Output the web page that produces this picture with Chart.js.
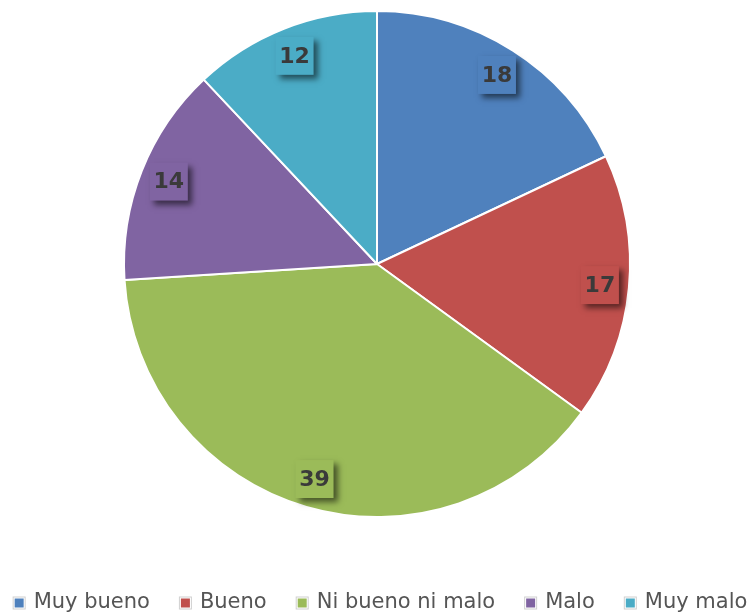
<!DOCTYPE html>
<html>
<head>
<meta charset="utf-8">
<script src="https://cdn.jsdelivr.net/npm/chart.js@4/dist/chart.umd.min.js"></script>
<style>
  html, body { margin: 0; padding: 0; background: #fff; }
  #wrap { width: 754px; height: 614px; }
</style>
</head>
<body>
<div id="wrap"><canvas id="grafico"></canvas></div>
<script>
// Respuestas de la encuesta
const categorias = ["Muy bueno", "Bueno", "Ni bueno ni malo", "Malo", "Muy malo"];
const valores = [18, 17, 39, 14, 12];
const colores = ["#4F81BD", "#C0504D", "#9BBB59", "#8064A2", "#4BACC6"];

// Etiquetas en cajas con sombra dentro de cada porción
const etiquetasCaja = {
  id: "etiquetasCaja",
  afterDatasetsDraw(chart) {
    const ctx = chart.ctx;
    const meta = chart.getDatasetMeta(0);
    meta.data.forEach((arc, i) => {
      const ang = (arc.startAngle + arc.endAngle) / 2;
      const r = arc.outerRadius * 0.885;
      const x = arc.x + Math.cos(ang) * r;
      const y = arc.y + Math.sin(ang) * r;
      const w = 38, h = 38;
      ctx.save();
      ctx.shadowColor = "rgba(0,0,0,0.55)";
      ctx.shadowBlur = 6;
      ctx.shadowOffsetX = 4;
      ctx.shadowOffsetY = 4;
      ctx.fillStyle = colores[i];
      ctx.fillRect(x - w / 2, y - h / 2, w, h);
      ctx.restore();
      ctx.save();
      ctx.font = "bold 22px 'DejaVu Sans'";
      ctx.fillStyle = "#3a3a3a";
      ctx.textAlign = "center";
      ctx.textBaseline = "middle";
      ctx.fillText(String(valores[i]), x, y + 1);
      ctx.restore();
    });
  }
};

// Leyenda inferior en una sola fila
const leyendaFila = {
  id: "leyendaFila",
  afterDraw(chart) {
    const ctx = chart.ctx;
    const gap = 29, caja = 13, sep = 8;
    ctx.save();
    ctx.font = "21px 'DejaVu Sans'";
    ctx.textBaseline = "middle";
    const anchos = categorias.map((c) => ctx.measureText(c).width);
    const total = anchos.reduce((a, b) => a + b + caja + sep, 0) + gap * (categorias.length - 1);
    let x = chart.width / 2 + 3 - total / 2;
    const y = 603;
    categorias.forEach((c, i) => {
      ctx.fillStyle = "#ffffff";
      ctx.strokeStyle = "#d0d0d0";
      ctx.lineWidth = 1;
      ctx.fillRect(x, y - caja / 2, caja, caja);
      ctx.strokeRect(x + 0.5, y - caja / 2 + 0.5, caja - 1, caja - 1);
      ctx.fillStyle = colores[i];
      ctx.fillRect(x + 2, y - caja / 2 + 2, caja - 4, caja - 4);
      ctx.fillStyle = "#555555";
      ctx.fillText(c, x + caja + sep, y);
      x += caja + sep + anchos[i] + gap;
    });
    ctx.restore();
  }
};

new Chart(document.getElementById("grafico"), {
  type: "pie",
  data: {
    labels: categorias,
    datasets: [{
      data: valores,
      backgroundColor: colores,
      borderColor: "#ffffff",
      borderWidth: 2
    }]
  },
  options: {
    responsive: true,
    maintainAspectRatio: false,
    animation: false,
    layout: { padding: { top: 10, bottom: 96 } },
    plugins: {
      tooltip: { enabled: false },
      legend: { display: false }
    }
  },
  plugins: [etiquetasCaja, leyendaFila]
});
</script>
</body>
</html>
